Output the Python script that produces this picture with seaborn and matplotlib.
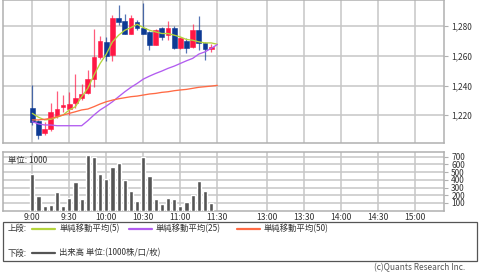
import matplotlib
matplotlib.use("Agg")
import matplotlib.pyplot as plt
import seaborn as sns
import numpy as np
import pandas as pd
from matplotlib.patches import Rectangle
from matplotlib.lines import Line2D

# ---------------- data ----------------
bar_times = ["9:00", "9:05", "9:10", "9:15", "9:20", "9:25", "9:30", "9:35", "9:40", "9:45",
             "9:50", "9:55", "10:00", "10:05", "10:10", "10:15", "10:20", "10:25", "10:30", "10:35",
             "10:40", "10:45", "10:50", "10:55", "11:00", "11:05", "11:10", "11:15", "11:20", "11:25"]
opens = [1225.0, 1216.2, 1208.1, 1210.8, 1219.6, 1225.6, 1223.9, 1228.0, 1231.4, 1235.1,
         1244.3, 1258.8, 1268.9, 1260.4, 1285.0, 1283.1, 1274.9, 1282.9, 1278.3, 1276.0,
         1267.5, 1278.3, 1273.8, 1278.3, 1264.9, 1270.0, 1265.9, 1277.1, 1268.2, 1264.6]
highs = [1240.3, 1217.0, 1215.7, 1228.2, 1236.3, 1233.6, 1235.6, 1247.7, 1241.0, 1250.3,
         1277.6, 1273.1, 1272.6, 1287.2, 1293.9, 1287.8, 1287.2, 1283.8, 1295.2, 1276.7,
         1277.6, 1279.3, 1283.1, 1280.1, 1272.6, 1271.6, 1281.1, 1286.5, 1269.3, 1267.7]
lows = [1213.5, 1204.1, 1206.8, 1209.2, 1218.2, 1222.2, 1219.9, 1224.9, 1230.3, 1234.1,
        1239.0, 1257.7, 1256.7, 1256.6, 1280.5, 1274.4, 1274.4, 1277.5, 1274.4, 1263.7,
        1267.1, 1270.4, 1270.4, 1264.4, 1264.4, 1261.7, 1265.5, 1263.7, 1257.0, 1262.2]
closes = [1215.7, 1206.8, 1210.8, 1222.0, 1224.2, 1227.2, 1227.4, 1231.4, 1234.5, 1244.3,
          1258.8, 1270.0, 1259.7, 1285.0, 1282.7, 1274.9, 1285.0, 1278.3, 1274.9, 1266.9,
          1277.1, 1272.6, 1278.3, 1264.9, 1272.2, 1264.9, 1277.1, 1268.2, 1264.2, 1265.9]
volumes = [480, 190, 60, 80, 240, 60, 160, 370, 150, 720,
           690, 470, 405, 565, 620, 395, 260, 120, 690, 450,
           150, 90, 165, 150, 60, 110, 210, 385, 255, 100]

ma_times = bar_times + ["11:30"]
ma5 = [1221.3, 1218.7, 1216.9, 1217.3, 1218.7, 1220.2, 1223.6, 1225.8, 1232.5, 1238.1,
       1247.0, 1254.8, 1261.1, 1269.3, 1273.8, 1277.1, 1278.9, 1281.1, 1278.9, 1277.1,
       1276.0, 1274.9, 1274.9, 1273.8, 1272.6, 1270.9, 1270.4, 1269.3, 1268.6, 1268.6, 1267.7]
ma25 = [1215.7, 1214.2, 1213.5, 1213.5, 1213.0, 1213.0, 1213.0, 1213.0, 1213.0, 1216.4,
        1220.2, 1223.6, 1226.2, 1229.1, 1232.5, 1235.8, 1238.8, 1241.4, 1244.3, 1246.3,
        1248.1, 1249.7, 1251.5, 1253.0, 1254.8, 1256.6, 1258.2, 1261.1, 1262.6, 1264.9, 1267.5]
ma50 = [1216.9, 1216.9, 1217.3, 1218.0, 1219.1, 1220.2, 1221.3, 1222.4, 1223.6, 1224.2,
        1225.8, 1227.6, 1229.1, 1230.2, 1231.1, 1231.8, 1232.5, 1232.9, 1233.6, 1234.3,
        1234.7, 1235.4, 1235.8, 1236.5, 1237.0, 1237.4, 1238.1, 1238.8, 1239.2, 1239.6, 1240.1]

price_ticks = [1220, 1240, 1260, 1280]
vol_ticks = [100, 200, 300, 400, 500, 600, 700]
time_ticks = ["9:00", "9:30", "10:00", "10:30", "11:00", "11:30",
              "13:00", "13:30", "14:00", "14:30", "15:00"]


# ---------------- helpers (time scale with compressed lunch break) ----------------
def slot(t):
    h, m = map(int, t.split(":"))
    mins = h * 60 + m
    if mins <= 11 * 60 + 30:
        return (mins - 9 * 60) / 5.0
    return 38 + (mins - 13 * 60) / 5.0


UP = "#ff1744"
DOWN = "#0d3a94"
GRID = "#c6c6c6"
FRAME = "#b0b0b0"
TXT = "#333333"

sns.set_theme(style="white")
plt.rcParams['font.family'] = ['Noto Sans CJK JP', 'DejaVu Sans']

W, H = 480, 272
fig = plt.figure(figsize=(W / 100, H / 100), dpi=100)


def fy(px):
    return 1 - px / H


def fx(px):
    return px / W


left, right = 2.7, 444.3
ax = fig.add_axes([fx(left), fy(142.7), fx(right - left), (142.7 - 0.3) / H])
axv = fig.add_axes([fx(left), fy(210.7), fx(right - left), (210.7 - 151.7) / H])

xlim = (-4.8, 66.8)

# candles
xs = np.array([slot(t) for t in bar_times])
for x, o, hi, lo, c in zip(xs, opens, highs, lows, closes):
    col = UP if c >= o else DOWN
    ax.vlines(x, lo, hi, color=col, lw=0.9, alpha=0.7, zorder=3)
    bottom = min(o, c)
    height = max(abs(c - o), 0.5)
    ax.add_patch(Rectangle((x - 0.38, bottom), 0.76, height, facecolor=col,
                           edgecolor=col, lw=0.4, zorder=4))

# moving averages
ma_df = pd.DataFrame({
    "x": [slot(t) for t in ma_times] * 3,
    "v": ma5 + ma25 + ma50,
    "s": ["ma5"] * len(ma5) + ["ma25"] * len(ma25) + ["ma50"] * len(ma50),
})
sns.lineplot(data=ma_df, x="x", y="v", hue="s",
             palette={"ma5": "#b4d43c", "ma25": "#b25cf0", "ma50": "#ff6a44"},
             lw=0.95, legend=False, ax=ax, zorder=5, sort=False)

ax.set_xlim(*xlim)
ax.set_ylim(1201.6, 1297.2)
ax.set_xticks([slot(t) for t in time_ticks])
ax.set_xticklabels([])
ax.set_yticks(price_ticks)
ax.set_yticklabels([f"{v:,}" for v in price_ticks])
ax.yaxis.tick_right()
ax.grid(True, color=GRID, lw=1.1)

# volume
axv.bar(xs, volumes, width=0.66, color="#555555", zorder=3)
axv.set_xlim(*xlim)
axv.set_ylim(0, 765)
axv.set_xticks([slot(t) for t in time_ticks])
axv.set_xticklabels(time_ticks)
axv.set_yticks(vol_ticks)
axv.set_yticklabels([str(v) for v in vol_ticks])
axv.yaxis.tick_right()
axv.grid(True, color=GRID, lw=1.1)
axv.text(0.012, 0.93, "単位: 1000", transform=axv.transAxes, fontsize=6,
         color=TXT, va="top", ha="left", zorder=6)

for a in (ax, axv):
    for sp in a.spines.values():
        sp.set_color(FRAME)
        sp.set_linewidth(1.1)
    a.tick_params(axis="y", which="both", right=True, length=3, width=0.8,
                  color=FRAME, labelsize=6, labelcolor=TXT, pad=2)
    a.tick_params(axis="x", length=0, labelsize=6.2, labelcolor=TXT, pad=1.5)
    a.set_axisbelow(True)
    a.set_xlabel("")
    a.set_ylabel("")

# legend box
fig.add_artist(Rectangle((fx(2.7), fy(260.7)), fx(477 - 2.7), (260.7 - 222.3) / H,
                         transform=fig.transFigure, fill=False, edgecolor="#555555", lw=0.9))
row1, row2 = 228.5, 253.0
fig.text(fx(8), fy(row1), "上段:", fontsize=6, color=TXT, va="center", ha="left")
fig.text(fx(8), fy(row2), "下段:", fontsize=6, color=TXT, va="center", ha="left")
items = [(32.3, "#b4d43c", "単純移動平均(5)"), (128.7, "#b25cf0", "単純移動平均(25)"),
         (237.0, "#ff6a44", "単純移動平均(50)")]
for x0, col, lab in items:
    fig.add_artist(Line2D([fx(x0), fx(x0 + 23)], [fy(row1), fy(row1)],
                          transform=fig.transFigure, color=col, lw=1.6))
    fig.text(fx(x0 + 27), fy(row1), lab, fontsize=6, color=TXT, va="center", ha="left")
fig.add_artist(Line2D([fx(32.3), fx(55.3)], [fy(row2), fy(row2)],
                      transform=fig.transFigure, color="#555555", lw=1.6))
fig.text(fx(59.3), fy(row2), "出来高 単位:(1000株/口/枚)", fontsize=6, color=TXT,
         va="center", ha="left")
fig.text(fx(465), fy(268), "(c)Quants Research Inc.", fontsize=6, color="#555555",
         va="center", ha="right")

fig.savefig("out.png", dpi=100)
